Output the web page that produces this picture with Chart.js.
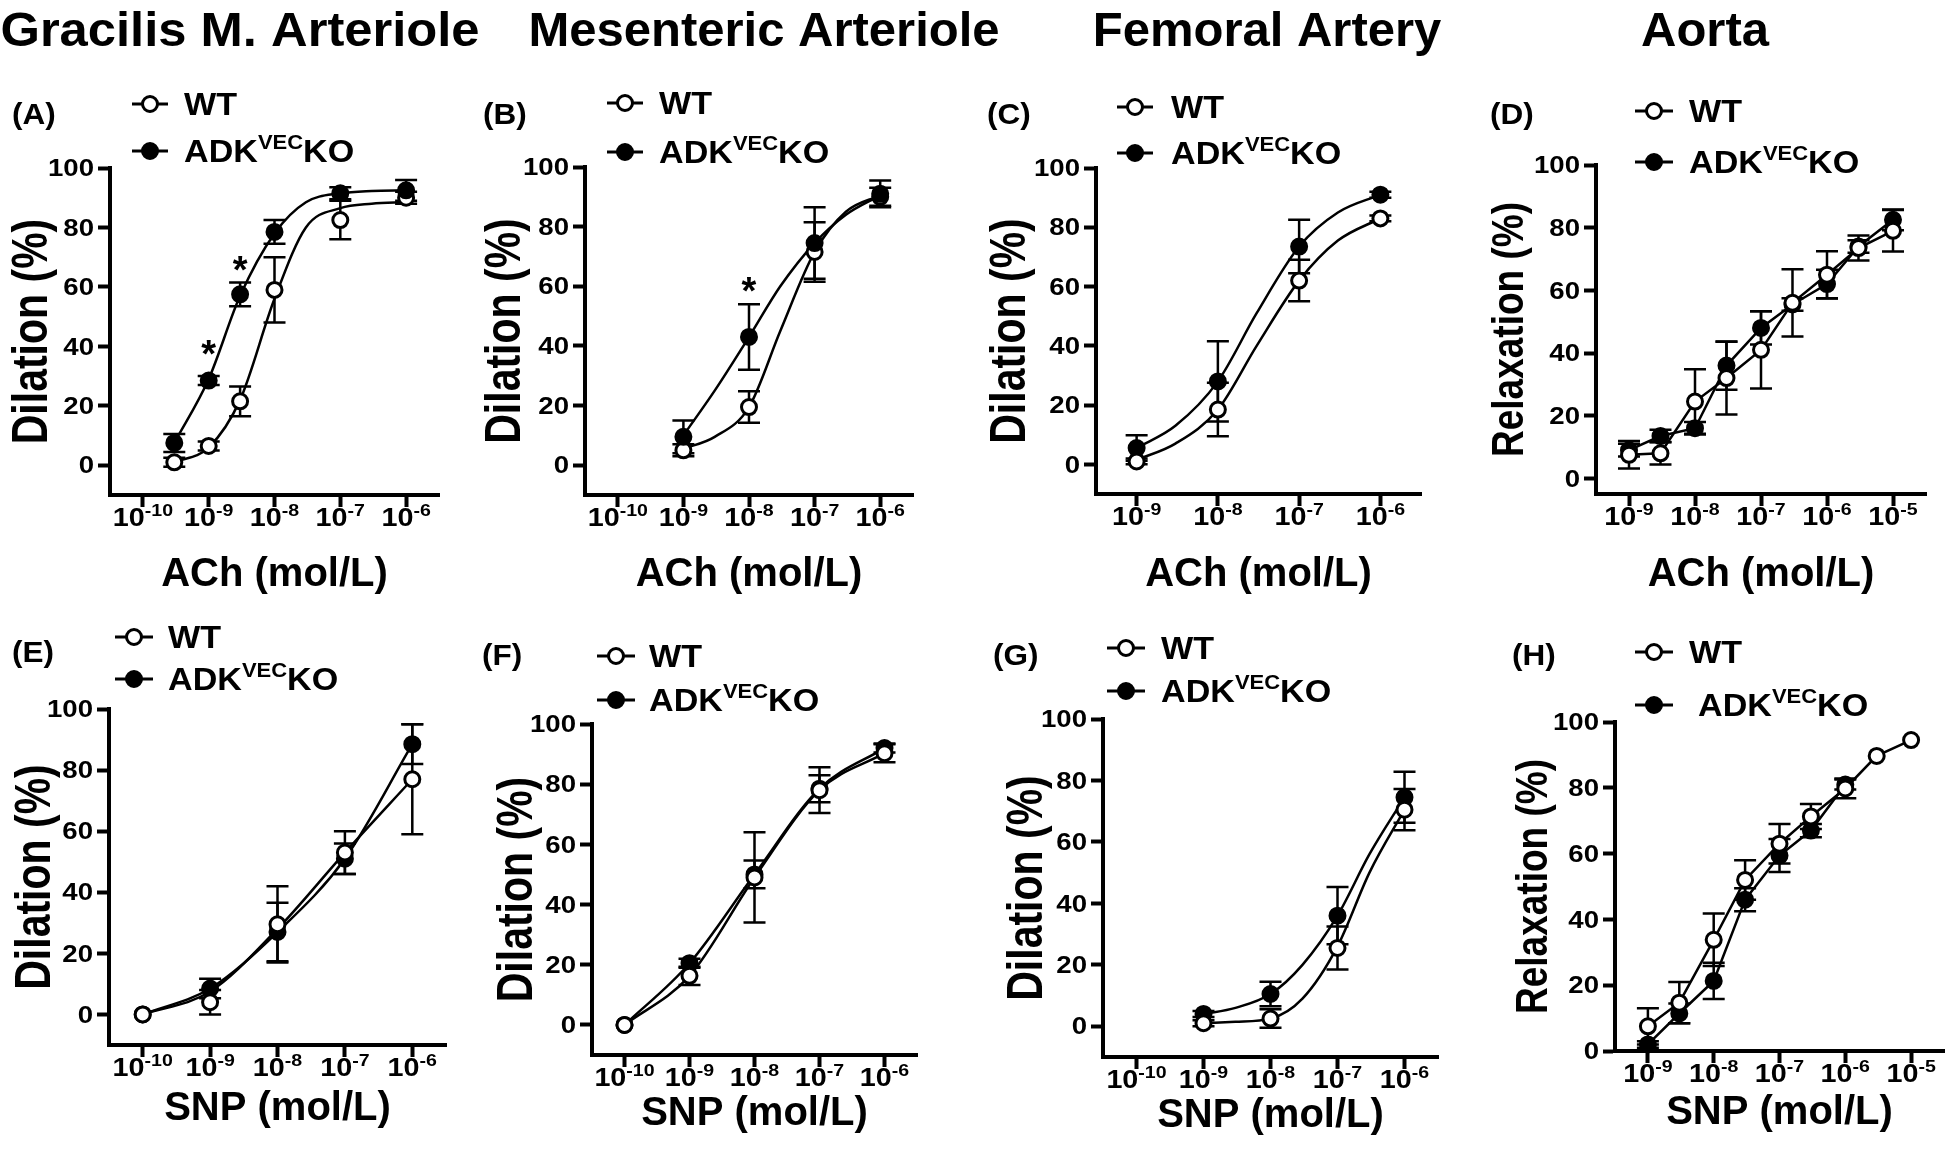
<!DOCTYPE html>
<html>
<head>
<meta charset="utf-8">
<title>Vasodilation ACh / SNP</title>
<script src="https://cdn.jsdelivr.net/npm/chart.js@4.4.1/dist/chart.umd.min.js"></script>
<style>
  html, body { margin: 0; padding: 0; background: #fff; }
  #wrap { position: relative; width: 1950px; height: 1160px; overflow: hidden; background: #fff; }
  #wrap canvas { position: absolute; left: 0; top: 0; }
</style>
</head>
<body>
<div id="wrap"></div>
<script>
// ---- data: doses in mol/L, responses in % (mean and SEM) ----
const yTicks = [0, 20, 40, 60, 80, 100];
const yTickLabels = ['0', '20', '40', '60', '80', '100'];
const seriesWT = 'WT';
const seriesKO = ['ADK', 'VEC', 'KO'];

// (A) gracilis arteriole, ACh
const doseA = [3e-10, 1e-9, 3e-9, 1e-8, 1e-7, 1e-6];
const wtA = [1, 6.5, 21.5, 59, 82.5, 90];
const wtErrA = [1.5, 1.5, 5, 11, 6.5, 2];
const koA = [7.5, 28.5, 57.5, 78.5, 91.5, 92.5];
const koErrA = [3, 1.5, 4, 4, 2, 3.5];
const fitDoseA = [3e-10, 1e-9, 3e-9, 1e-8, 3e-8, 1e-7, 3e-7, 1e-6];
const wtFitA = [1, 6, 22, 56, 80, 86.5, 88, 88.5];
const koFitA = [7.5, 29, 57, 78, 88.5, 91.5, 92.3, 92.5];
const starDoseA = [1e-9, 3e-9];
const starYA = [40, 68.5];

// (B) mesenteric arteriole, ACh
const doseB = [1e-9, 1e-8, 1e-7, 1e-6];
const wtB = [5, 19.5, 71.5, 90];
const wtErrB = [2, 5.3, 10, 3];
const koB = [9.5, 43, 74.5, 91];
const koErrB = [5.5, 11, 12, 4.5];
const fitDoseB = [1e-9, 3e-9, 1e-8, 3e-8, 1e-7, 3e-7, 1e-6];
const wtFitB = [5.5, 9.5, 19.5, 45, 71.5, 85, 90.5];
const koFitB = [10, 25, 43, 60, 74.5, 84, 90.5];
const starDoseB = [1e-8];
const starYB = [61];

// (C) femoral artery, ACh
const doseC = [1e-9, 1e-8, 1e-7, 1e-6];
const wtC = [1, 18.5, 62, 83];
const wtErrC = [1, 9, 7, 1];
const koC = [5.5, 28, 73.5, 91];
const koErrC = [4.3, 13.5, 9, 1];
const fitDoseC = [1e-9, 3e-9, 1e-8, 3e-8, 1e-7, 3e-7, 1e-6];
const wtFitC = [1.5, 7, 18.5, 40, 62, 75.5, 83];
const koFitC = [5.5, 13, 28, 51, 73.5, 85, 91];

// (D) aorta, ACh
const doseD = [1e-9, 3e-9, 1e-8, 3e-8, 1e-7, 3e-7, 1e-6, 3e-6, 1e-5];
const wtD = [7.5, 8, 24.5, 32, 41, 56, 65, 73.5, 79];
const wtErrD = [4.4, 3.6, 10.3, 11.6, 12.3, 10.7, 7.5, 4, 6.6];
const koD = [9, 13.5, 16, 36, 48, 55.5, 62, 74, 82.5];
const koErrD = [2, 2, 2, 7.7, 5.3, 2, 4.6, 2, 3.3];

// (E) gracilis arteriole, SNP
const doseE = [1e-10, 1e-9, 1e-8, 1e-7, 1e-6];
const wtE = [0, 4, 29.5, 53, 77];
const wtErrE = [0, 4, 12.5, 7, 18];
const koE = [0, 8.5, 27, 51, 88.5];
const koErrE = [0, 3.2, 9.6, 5, 6.5];
const wtFitE = [0, 7.5, 28, 53, 77];
const koFitE = [0, 8.5, 27, 51, 88.5];

// (F) mesenteric arteriole, SNP
const doseF = [1e-10, 1e-9, 1e-8, 1e-7, 1e-6];
const wtF = [0, 16.3, 49, 78, 90.3];
const wtErrF = [0, 3, 15, 7.6, 3];
const koF = [0, 20.5, 50, 78.5, 92];
const koErrF = [0, 1.5, 4.6, 4.5, 1.5];

// (G) femoral artery, SNP
const doseG = [1e-9, 1e-8, 1e-7, 1e-6];
const wtG = [1, 2.5, 25.5, 70.5];
const wtErrG = [1, 3, 7, 6.7];
const koG = [4, 10.5, 36, 74.5];
const koErrG = [1, 4, 9.3, 8.3];
const fitDoseG = [1e-9, 3e-9, 1e-8, 3e-8, 1e-7, 3e-7, 1e-6];
const wtFitG = [1, 1.5, 2.5, 9, 26, 50, 70.5];
const koFitG = [4, 6, 10.5, 20, 36, 56, 74.5];

// (H) aorta, SNP
const doseWtH = [1e-9, 3e-9, 1e-8, 3e-8, 1e-7, 3e-7, 1e-6, 3e-6, 1e-5];
const wtH = [7.5, 14.7, 33.8, 52, 63, 71.3, 79.8, 89.7, 94.5];
const wtErrH = [5.5, 6.3, 8, 6, 6, 3.8, 3, 0, 0];
const doseKoH = [1e-9, 3e-9, 1e-8, 3e-8, 1e-7, 3e-7, 1e-6];
const koH = [2, 11.4, 21.3, 46, 59.4, 67, 81];
const koErrH = [1, 3, 5.5, 3.5, 5, 2, 1.5];

// x tick decades and their exponent labels
const ticks10to6 = [1e-10, 1e-9, 1e-8, 1e-7, 1e-6];
const exp10to6 = ['-10', '-9', '-8', '-7', '-6'];
const ticks9to6 = [1e-9, 1e-8, 1e-7, 1e-6];
const exp9to6 = ['-9', '-8', '-7', '-6'];
const ticks9to5 = [1e-9, 1e-8, 1e-7, 1e-6, 1e-5];
const exp9to5 = ['-9', '-8', '-7', '-6', '-5'];

// ---- panel layout (page pixels) ----
const panels = [
  { label: '(A)', title: 'Gracilis M. Arteriole', titleX: 240, titleSx: 1.035, area: [110, 168, 439, 495],
    xMin: -10.5, xMax: -5.5, yMin: -10, xTicks: ticks10to6, xExp: exp10to6,
    wtDose: doseA, wt: wtA, wtErr: wtErrA, koDose: doseA, ko: koA, koErr: koErrA,
    fitDose: fitDoseA, wtFit: wtFitA, koFit: koFitA, starDose: starDoseA, starY: starYA, koOnTop: true,
    xTitle: 'ACh (mol/L)', xTitleY: 586, yTitle: 'Dilation (%)', yTitleX: 47, yTitleSize: 41,
    labelX: 12, labelY: 124, leg: [132, 168, 184, 184, 104, 151] },
  { label: '(B)', title: 'Mesenteric Arteriole', titleX: 764, area: [585, 167, 913, 495],
    xMin: -10.5, xMax: -5.5, yMin: -10, xTicks: ticks10to6, xExp: exp10to6,
    wtDose: doseB, wt: wtB, wtErr: wtErrB, koDose: doseB, ko: koB, koErr: koErrB,
    fitDose: fitDoseB, wtFit: wtFitB, koFit: koFitB, starDose: starDoseB, starY: starYB, koOnTop: true,
    xTitle: 'ACh (mol/L)', xTitleY: 586, yTitle: 'Dilation (%)', yTitleX: 520, yTitleSize: 41,
    labelX: 483, labelY: 124, leg: [607, 643, 659, 659, 103, 152] },
  { label: '(C)', title: 'Femoral Artery', titleX: 1267, area: [1096, 168, 1421, 494],
    xMin: -9.5, xMax: -5.5, yMin: -10, xTicks: ticks9to6, xExp: exp9to6,
    wtDose: doseC, wt: wtC, wtErr: wtErrC, koDose: doseC, ko: koC, koErr: koErrC,
    fitDose: fitDoseC, wtFit: wtFitC, koFit: koFitC,
    xTitle: 'ACh (mol/L)', xTitleY: 586, yTitle: 'Dilation (%)', yTitleX: 1025, yTitleSize: 41,
    labelX: 987, labelY: 124, leg: [1117, 1153, 1171, 1171, 107, 153] },
  { label: '(D)', title: 'Aorta', titleX: 1705, area: [1596, 165, 1926, 494],
    xMin: -9.5, xMax: -4.5, yMin: -5, xTicks: ticks9to5, xExp: exp9to5,
    wtDose: doseD, wt: wtD, wtErr: wtErrD, koDose: doseD, ko: koD, koErr: koErrD, straight: true,
    xTitle: 'ACh (mol/L)', xTitleY: 586, yTitle: 'Relaxation (%)', yTitleX: 1523, yTitleSize: 37,
    labelX: 1490, labelY: 124, leg: [1635, 1673, 1689, 1689, 111, 162] },
  { label: '(E)', area: [109, 709, 446, 1045],
    xMin: -10.5, xMax: -5.5, yMin: -10, xTicks: ticks10to6, xExp: exp10to6,
    wtDose: doseE, wt: wtE, wtErr: wtErrE, koDose: doseE, ko: koE, koErr: koErrE,
    fitDose: doseE, wtFit: wtFitE, koFit: koFitE,
    xTitle: 'SNP (mol/L)', xTitleY: 1120, yTitle: 'Dilation (%)', yTitleX: 50, yTitleSize: 41,
    labelX: 12, labelY: 662, leg: [115, 153, 168, 168, 637, 679] },
  { label: '(F)', area: [592, 724, 917, 1055],
    xMin: -10.5, xMax: -5.5, yMin: -10, xTicks: ticks10to6, xExp: exp10to6,
    wtDose: doseF, wt: wtF, wtErr: wtErrF, koDose: doseF, ko: koF, koErr: koErrF,
    xTitle: 'SNP (mol/L)', xTitleY: 1125, yTitle: 'Dilation (%)', yTitleX: 532, yTitleSize: 41,
    labelX: 482, labelY: 665, leg: [597, 635, 649, 649, 656, 700] },
  { label: '(G)', area: [1103, 719, 1438, 1057],
    xMin: -10.5, xMax: -5.5, yMin: -10, xTicks: ticks10to6, xExp: exp10to6,
    wtDose: doseG, wt: wtG, wtErr: wtErrG, koDose: doseG, ko: koG, koErr: koErrG,
    fitDose: fitDoseG, wtFit: wtFitG, koFit: koFitG,
    xTitle: 'SNP (mol/L)', xTitleY: 1127, yTitle: 'Dilation (%)', yTitleX: 1042, yTitleSize: 41,
    labelX: 993, labelY: 665, leg: [1107, 1145, 1161, 1161, 648, 691] },
  { label: '(H)', area: [1615, 722, 1944, 1051],
    xMin: -9.5, xMax: -4.5, yMin: 0, xTicks: ticks9to5, xExp: exp9to5,
    wtDose: doseWtH, wt: wtH, wtErr: wtErrH, koDose: doseKoH, ko: koH, koErr: koErrH, straight: true,
    xTitle: 'SNP (mol/L)', xTitleY: 1124, yTitle: 'Relaxation (%)', yTitleX: 1547, yTitleSize: 37,
    labelX: 1512, labelY: 665, leg: [1635, 1673, 1689, 1698, 652, 705] }
];

const FONT = '"Liberation Sans", Arial, Helvetica, sans-serif';
const TICK = 12;
const TICK_LABEL_DY = 31;

function zip(xs, ys) {
  return xs.map((x, i) => ({ x: x, y: ys[i] }));
}

function textWidth(ctx, s, size, sx) {
  ctx.save();
  ctx.font = 'bold ' + size + 'px ' + FONT;
  const w = ctx.measureText(s).width * sx;
  ctx.restore();
  return w;
}

// draws bold text, optionally stretched horizontally, returns its width
function drawText(ctx, s, x, y, size, align, sx) {
  const w = textWidth(ctx, s, size, sx);
  let left = x;
  if (align === 'center') left = x - w / 2;
  if (align === 'right') left = x - w;
  ctx.save();
  ctx.font = 'bold ' + size + 'px ' + FONT;
  ctx.fillStyle = '#000';
  ctx.textAlign = 'left';
  ctx.textBaseline = 'alphabetic';
  ctx.translate(left, y);
  ctx.scale(sx, 1);
  ctx.fillText(s, 0, 0);
  ctx.restore();
  return w;
}

function legendMark(ctx, x1, x2, y, filled) {
  ctx.save();
  ctx.strokeStyle = '#000';
  ctx.lineWidth = 3;
  ctx.beginPath();
  ctx.moveTo(x1, y);
  ctx.lineTo(x2, y);
  ctx.stroke();
  ctx.beginPath();
  ctx.arc((x1 + x2) / 2, y, 7.5, 0, Math.PI * 2);
  ctx.fillStyle = filled ? '#000' : '#fff';
  ctx.fill();
  ctx.stroke();
  ctx.restore();
}

// SEM bars, drawn under the markers
const errorBars = {
  id: 'errorBars',
  beforeDatasetsDraw(chart) {
    const ctx = chart.ctx;
    const ys = chart.scales.y;
    ctx.save();
    ctx.strokeStyle = '#000';
    ctx.lineWidth = 2.5;
    chart.data.datasets.forEach((ds, i) => {
      if (!ds.err) return;
      const meta = chart.getDatasetMeta(i);
      meta.data.forEach((pt, j) => {
        const e = ds.err[j];
        if (!e) return;
        const v = ds.data[j].y;
        const top = ys.getPixelForValue(v + e);
        const bot = ys.getPixelForValue(v - e);
        ctx.beginPath();
        ctx.moveTo(pt.x, top); ctx.lineTo(pt.x, bot);
        ctx.moveTo(pt.x - 11, top); ctx.lineTo(pt.x + 11, top);
        ctx.moveTo(pt.x - 11, bot); ctx.lineTo(pt.x + 11, bot);
        ctx.stroke();
      });
    });
    ctx.restore();
  }
};

function decorations(p) {
  return {
    id: 'decorations',
    afterDraw(chart) {
      const ctx = chart.ctx;
      const xs = chart.scales.x;
      const ys = chart.scales.y;
      const a = chart.chartArea;

      // y tick labels
      yTicks.forEach((v, i) => {
        drawText(ctx, yTickLabels[i], a.left - TICK - 4, ys.getPixelForValue(v) + 8.2, 23, 'right', 1.2);
      });

      // x tick labels as 10 with a superscript exponent
      p.xTicks.forEach((v, i) => {
        const x = xs.getPixelForValue(v);
        const wb = textWidth(ctx, '10', 25, 1.15);
        const we = textWidth(ctx, p.xExp[i], 17, 1.15);
        const left = x - (wb + we) / 2;
        drawText(ctx, '10', left, a.bottom + TICK_LABEL_DY, 25, 'left', 1.15);
        drawText(ctx, p.xExp[i], left + wb, a.bottom + TICK_LABEL_DY - 10, 17, 'left', 1.15);
      });

      // axis titles
      drawText(ctx, p.xTitle, (a.left + a.right) / 2, p.xTitleY, 40, 'center', 1);
      ctx.save();
      ctx.translate(p.yTitleX, (a.top + a.bottom) / 2);
      ctx.rotate(-Math.PI / 2);
      ctx.scale(1, 1.2);
      ctx.font = 'bold ' + p.yTitleSize + 'px ' + FONT;
      ctx.fillStyle = '#000';
      ctx.textAlign = 'center';
      ctx.textBaseline = 'alphabetic';
      ctx.fillText(p.yTitle, 0, 0);
      ctx.restore();

      // column title and panel letter
      if (p.title) drawText(ctx, p.title, p.titleX, 46, 49, 'center', p.titleSx || 1);
      drawText(ctx, p.label, p.labelX, p.labelY, 30, 'left', 1.05);

      // legend
      const [x1, x2, tx1, tx2, y1, y2] = p.leg;
      legendMark(ctx, x1, x2, y1, false);
      drawText(ctx, seriesWT, tx1, y1 + 11, 31, 'left', 1.1);
      legendMark(ctx, x1, x2, y2, true);
      let w = drawText(ctx, seriesKO[0], tx2, y2 + 11, 31, 'left', 1.1);
      w += drawText(ctx, seriesKO[1], tx2 + w, y2 - 2, 20, 'left', 1.1);
      drawText(ctx, seriesKO[2], tx2 + w, y2 + 11, 31, 'left', 1.1);

      // significance marks
      if (p.starDose) {
        p.starDose.forEach((d, i) => {
          const x = xs.getPixelForValue(d);
          const y = ys.getPixelForValue(p.starY[i]);
          drawText(ctx, '*', x, y + 21, 38, 'center', 1);
        });
      }
    }
  };
}

function curve(dose, vals, straight) {
  return {
    data: zip(dose, vals),
    borderColor: '#000',
    borderWidth: 2.5,
    pointRadius: 0,
    showLine: true,
    fill: false,
    tension: 0,
    cubicInterpolationMode: straight ? 'default' : 'monotone',
    order: 10,
    clip: false
  };
}

function marks(dose, vals, err, filled, order) {
  return {
    data: zip(dose, vals),
    err: err,
    showLine: false,
    pointStyle: 'circle',
    pointRadius: 7.5,
    pointBorderWidth: 3,
    pointBorderColor: '#000',
    pointBackgroundColor: filled ? '#000' : '#fff',
    order: order,
    clip: false
  };
}

const wrap = document.getElementById('wrap');

panels.forEach(p => {
  const canvas = document.createElement('canvas');
  canvas.width = 1950;
  canvas.height = 1160;
  wrap.appendChild(canvas);

  const datasets = [];
  if (p.wtFit) {
    datasets.push(curve(p.fitDose, p.wtFit, false));
    datasets.push(curve(p.fitDose, p.koFit, false));
  } else {
    datasets.push(curve(p.wtDose, p.wt, p.straight));
    datasets.push(curve(p.koDose, p.ko, p.straight));
  }
  datasets.push(marks(p.koDose, p.ko, p.koErr, true, p.koOnTop ? 1 : 2));
  datasets.push(marks(p.wtDose, p.wt, p.wtErr, false, p.koOnTop ? 2 : 1));

  const [left, top, right, bottom] = p.area;

  new Chart(canvas.getContext('2d'), {
    type: 'line',
    data: { datasets: datasets },
    options: {
      responsive: false,
      animation: false,
      events: [],
      layout: {
        autoPadding: false,
        padding: { left: left - TICK, top: top, right: 1950 - right, bottom: 1160 - bottom - TICK }
      },
      plugins: {
        legend: { display: false },
        tooltip: { enabled: false },
        title: { display: false }
      },
      scales: {
        x: {
          type: 'logarithmic',
          position: 'bottom',
          min: Math.pow(10, p.xMin),
          max: Math.pow(10, p.xMax),
          afterBuildTicks: s => { s.ticks = p.xTicks.map(v => ({ value: v })); },
          afterFit: s => { s.height = TICK; },
          ticks: { display: false },
          grid: { display: true, drawOnChartArea: false, drawTicks: true, tickLength: TICK, tickWidth: 4, tickColor: '#000' },
          border: { display: true, color: '#000', width: 4 }
        },
        y: {
          type: 'linear',
          position: 'left',
          min: p.yMin,
          max: 100,
          afterBuildTicks: s => { s.ticks = yTicks.map(v => ({ value: v })); },
          afterFit: s => { s.width = TICK; },
          ticks: { display: false },
          grid: { display: true, drawOnChartArea: false, drawTicks: true, tickLength: TICK, tickWidth: 4, tickColor: '#000' },
          border: { display: true, color: '#000', width: 4 }
        }
      }
    },
    plugins: [errorBars, decorations(p)]
  });
});
</script>
</body>
</html>
